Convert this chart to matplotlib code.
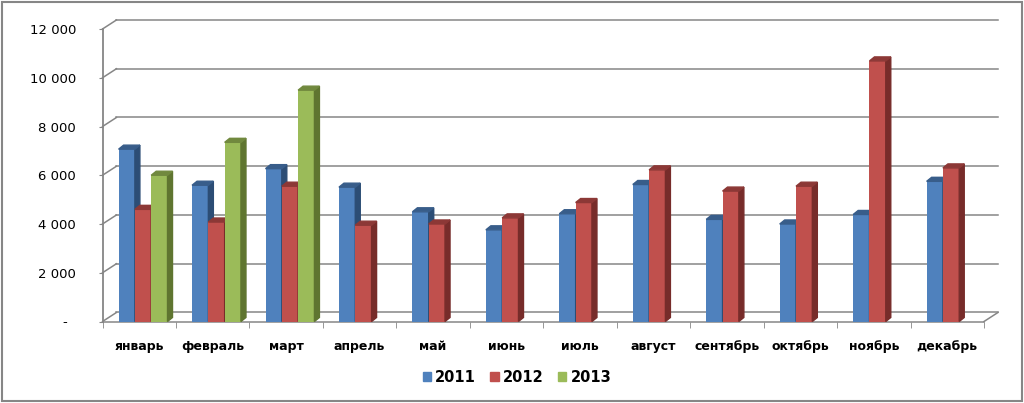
import matplotlib.pyplot as plt
from matplotlib.patches import Polygon, Rectangle, Patch

months = ['январь', 'февраль', 'март', 'апрель', 'май', 'июнь',
          'июль', 'август', 'сентябрь', 'октябрь', 'ноябрь', 'декабрь']
years = ['2011', '2012', '2013']
v2011 = [7070, 5590, 6270, 5510, 4500, 3760, 4420, 5620, 4190, 4000, 4390, 5750]
v2012 = [4600, 4080, 5550, 3950, 4000, 4250, 4880, 6220, 5350, 5550, 10690, 6300]
v2013 = [6000, 7350, 9490, None, None, None, None, None, None, None, None, None]
yticks = [0, 2000, 4000, 6000, 8000, 10000, 12000]
ylabels = ['-  ', '2 000', '4 000', '6 000', '8 000', '10 000', '12 000']

front = ['#4F81BD', '#C0504D', '#9BBB59']
side = ['#2C4D75', '#772C2A', '#5F7530']
top = ['#385D8A', '#8C3836', '#71893E']
grid = '#868686'

W = 0.222          # bar width, category units
OFFS = [-0.17, 0.052, 0.274]
BDX, BDY = 0.068, 165     # bar depth
WDX, WDY = 0.19, 370      # back wall offset

fig = plt.figure(figsize=(10.24, 4.03), dpi=100)
ax = fig.add_axes([102.5 / 1024, 1 - 321.5 / 403, 881.5 / 1024, 292.5 / 403])
ax.set_xlim(-0.5, 11.5)
ax.set_ylim(0, 12000)
for s in ax.spines.values():
    s.set_visible(False)

# back wall gridlines and left wall diagonals
for v in yticks:
    ax.plot([-0.5 + WDX, 11.5 + WDX], [v + WDY, v + WDY], color=grid, lw=1.1,
            clip_on=False, zorder=1)
    ax.plot([-0.5, -0.5 + WDX], [v, v + WDY], color=grid, lw=1.1,
            clip_on=False, zorder=1)
# left axis line, floor front edge, right floor diagonal
ax.plot([-0.5, -0.5], [0, 12000], color=grid, lw=1.3, clip_on=False, zorder=1)
ax.plot([-0.5, 11.5], [0, 0], color=grid, lw=1.1, clip_on=False, zorder=1)
ax.plot([11.5, 11.5 + WDX], [0, WDY], color=grid, lw=1.1, clip_on=False, zorder=1)

z = 2
for i in range(len(months)):
    for k, vals in enumerate([v2011, v2012, v2013]):
        h = vals[i]
        if h is None:
            continue
        x0 = i + OFFS[k] - W / 2
        x1 = x0 + W
        ax.bar(x0, h, width=W, align='edge', color=front[k], zorder=z)
        ax.add_patch(Polygon([(x1, 0), (x1 + BDX, BDY), (x1 + BDX, h + BDY), (x1, h)],
                             closed=True, color=side[k], zorder=z, clip_on=False))
        ax.add_patch(Polygon([(x0, h), (x0 + BDX, h + BDY), (x1 + BDX, h + BDY), (x1, h)],
                             closed=True, color=top[k], zorder=z, clip_on=False))
        z += 1

ax.set_yticks(yticks)
ax.set_yticklabels(ylabels, fontsize=9.5)
ax.tick_params(axis='y', length=3, color=grid, pad=16)

ax.set_xticks(range(len(months)))
ax.set_xticklabels(months, fontsize=9, fontweight='bold')
ax.set_xticks([i - 0.5 for i in range(len(months) + 1)], minor=True)
ax.tick_params(axis='x', which='major', length=0, pad=13)
ax.tick_params(axis='x', which='minor', length=4, color=grid, direction='out')

handles = [Patch(color=c, label=y) for c, y in zip(front, years)]
fig.legend(handles=handles, loc='center', bbox_to_anchor=(517 / 1024, 1 - 377 / 403),
           ncol=3, frameon=False, handlelength=0.55, handleheight=0.55,
           handletextpad=0.3, columnspacing=1.0,
           prop={'size': 10.5, 'weight': 'bold'})

fig.patches.append(Rectangle((0.002, 0.004), 0.996, 0.991, transform=fig.transFigure,
                             fill=False, edgecolor='#868686', lw=1.5))

fig.savefig('out.png', dpi=100)
